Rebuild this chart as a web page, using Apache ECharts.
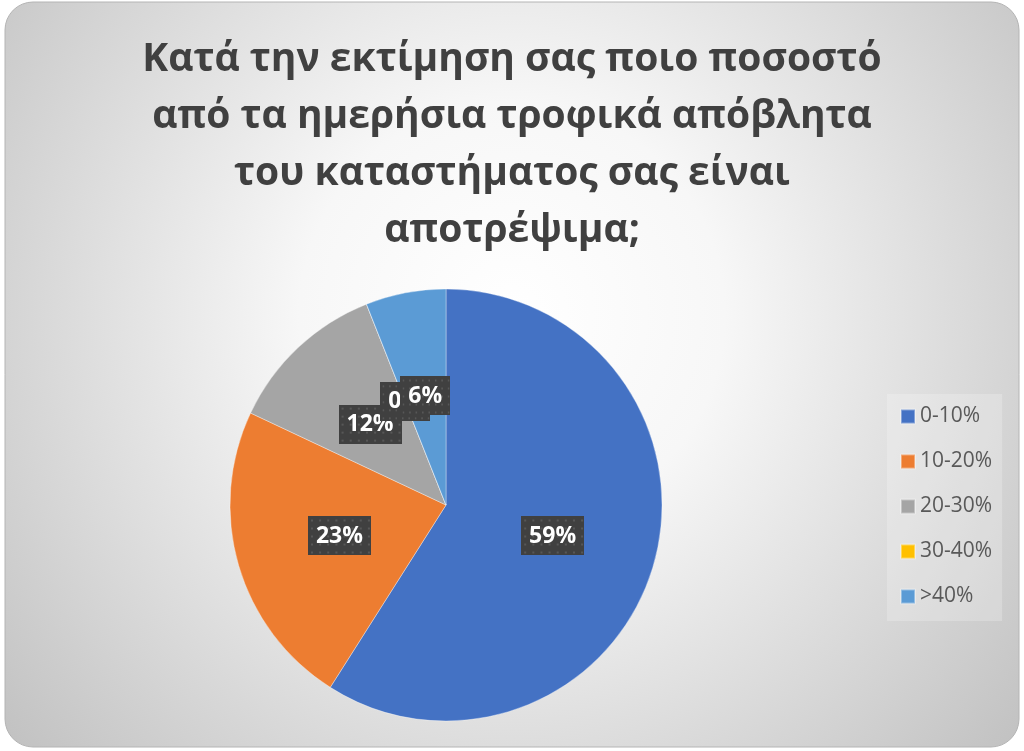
<!DOCTYPE html>
<html>
<head>
<meta charset="utf-8">
<script src="https://cdn.jsdelivr.net/npm/echarts@6/dist/echarts.min.js"></script>
<style>
  html, body { margin: 0; padding: 0; background: #ffffff; }
  #chart { width: 1024px; height: 751px; }
</style>
</head>
<body>
<div id="chart"></div>
<script>
// Survey answers: share of daily food waste that could be avoided
const titleLines = [
  'Κατά την εκτίμηση σας ποιο ποσοστό',
  'από τα ημερήσια τροφικά απόβλητα',
  'του καταστήματος σας είναι',
  'αποτρέψιμα;'
];
const categories = ['0-10%', '10-20%', '20-30%', '30-40%', '>40%'];
const percentages = [59, 23, 12, 0, 6];
const sliceColors = ['#4472C4', '#ED7D31', '#A5A5A5', '#FFC000', '#5B9BD5'];

const FONT = '"Open Sans", "Noto Sans", sans-serif';

// Dark dotted tile used behind the data labels
function dottedTile(w, h) {
  const c = document.createElement('canvas');
  c.width = w; c.height = h;
  const g = c.getContext('2d');
  g.fillStyle = '#404040';
  g.fillRect(0, 0, w, h);
  g.fillStyle = '#575757';
  for (let y = 3; y < h; y += 8) {
    for (let x = 3; x < w; x += 8) {
      g.fillRect(x, y, 2, 2);
    }
  }
  return c;
}
const labelTile = dottedTile(62, 39);

const chart = echarts.init(document.getElementById('chart'), null, { renderer: 'canvas' });

chart.setOption({
  animation: false,
  backgroundColor: '#ffffff',
  graphic: [{
    type: 'rect',
    z: -10,
    silent: true,
    shape: { x: 5, y: 2, width: 1014, height: 745, r: 28 },
    style: {
      fill: new echarts.graphic.RadialGradient(0.5, 0.42, 0.95, [
        { offset: 0, color: '#ffffff' },
        { offset: 0.3, color: '#f7f7f7' },
        { offset: 1, color: '#bcbcbc' }
      ]),
      stroke: '#b4b4b4',
      lineWidth: 1
    }
  }],
  title: {
    text: titleLines.join('\n'),
    left: 'center',
    top: 26,
    textStyle: {
      fontFamily: FONT,
      fontSize: 39,
      fontWeight: 'bold',
      color: '#404040',
      lineHeight: 57
    }
  },
  legend: {
    orient: 'vertical',
    left: 887,
    top: 394,
    padding: [12, 10, 14, 13],
    backgroundColor: 'rgba(255,255,255,0.22)',
    icon: 'rect',
    itemWidth: 14,
    itemHeight: 14,
    itemGap: 24,
    data: categories,
    textStyle: {
      fontFamily: FONT,
      fontSize: 21,
      lineHeight: 21,
      color: '#595959'
    }
  },
  series: [{
    type: 'pie',
    center: [446, 505],
    radius: 216,
    startAngle: 90,
    clockwise: true,
    avoidLabelOverlap: false,
    stillShowZeroSum: true,
    minShowLabelAngle: -1,
    labelLayout: { hideOverlap: false },
    itemStyle: { borderColor: 'rgba(255,255,255,0.35)', borderWidth: 1 },
    label: {
      show: true,
      position: 'inside',
      formatter: '{c}%',
      fontFamily: FONT,
      fontSize: 23,
      fontWeight: 'bold',
      color: '#ffffff',
      lineHeight: 23,
      padding: [8, 8, 8, 8],
      backgroundColor: { image: labelTile },
      shadowColor: 'rgba(0,0,0,0.55)',
      shadowBlur: 7,
      shadowOffsetX: 3,
      shadowOffsetY: 4
    },
    labelLine: { show: false },
    emphasis: { disabled: true },
    data: categories.map((name, i) => ({
      name: name,
      value: percentages[i],
      itemStyle: { color: sliceColors[i] }
    }))
  }]
});
</script>
</body>
</html>
